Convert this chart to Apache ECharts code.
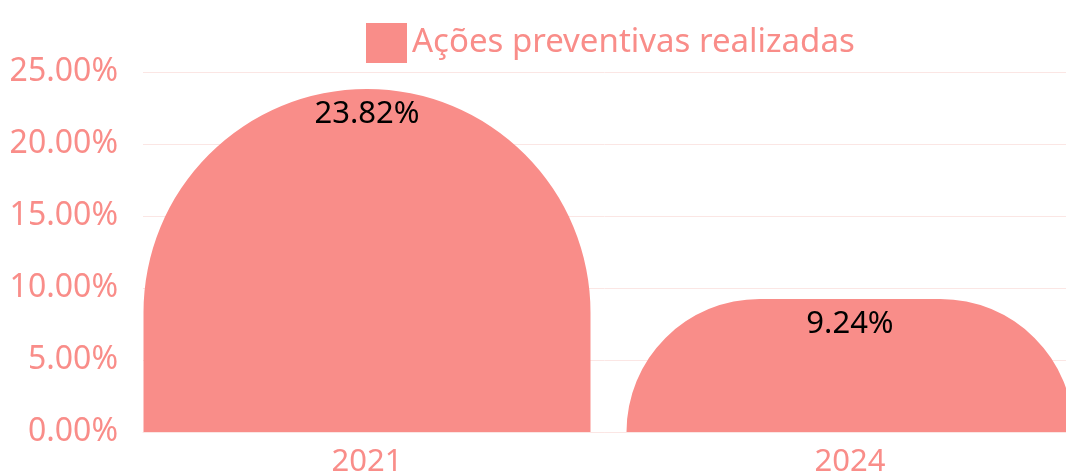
<!DOCTYPE html>
<html><head><meta charset="utf-8">
<script src="https://cdn.jsdelivr.net/npm/echarts@6/dist/echarts.min.js"></script>
<style>html,body{margin:0;padding:0;background:#fff}#c{width:1066px;height:473px}</style>
</head><body><div id="c"></div>
<script>
const categories = ['2021', '2024'];
const values = [23.82, 9.24];
const seriesName = 'Ações preventivas realizadas';
const yMin = 0, yMax = 25, yInterval = 5;

const barColor = '#f98d89';
const textColor = '#f98d89';
const gridColor = '#fbe6e4';
const font = 'Noto Sans';

const chart = echarts.init(document.getElementById('c'));
chart.setOption({
  animation: false,
  textStyle: { fontFamily: font },
  legend: {
    top: 18, left: 361,
    itemWidth: 41, itemHeight: 40, itemGap: 9,
    icon: 'rect',
    textStyle: { color: textColor, fontSize: 33, fontFamily: font },
    data: [seriesName]
  },
  grid: [
    { left: 143, right: 0, top: 72, bottom: 41, outerBoundsMode: 'none', containLabel: false },
    { left: 125.5, width: 966, top: 72, bottom: 41, outerBoundsMode: 'none', containLabel: false }
  ],
  xAxis: [
    { type: 'category', gridIndex: 0, data: categories,
      axisLabel: { show: false }, axisTick: { show: false },
      axisLine: { lineStyle: { color: gridColor, width: 1 } } },
    { type: 'category', gridIndex: 1, data: categories,
      axisLine: { show: false }, axisTick: { show: false },
      axisLabel: { color: textColor, fontSize: 31, margin: 15, fontFamily: font } }
  ],
  yAxis: [
    { type: 'value', gridIndex: 0, min: yMin, max: yMax, interval: yInterval,
      axisLabel: { color: textColor, fontSize: 32, margin: 25, fontFamily: font,
        formatter: v => v.toFixed(2) + '%' },
      splitLine: { lineStyle: { color: gridColor, width: 1 } },
      axisLine: { show: false }, axisTick: { show: false } },
    { type: 'value', gridIndex: 1, min: yMin, max: yMax, interval: yInterval, show: false,
      splitLine: { show: false } }
  ],
  series: [{
    name: seriesName, type: 'bar', xAxisIndex: 1, yAxisIndex: 1,
    data: values, barWidth: 447,
    itemStyle: { color: barColor, borderRadius: [9999, 9999, 0, 0] },
    label: { show: true, position: 'insideTop', distance: 10, color: '#000', fontSize: 31, fontFamily: font,
      formatter: p => p.value.toFixed(2) + '%' }
  }]
});
</script></body></html>
